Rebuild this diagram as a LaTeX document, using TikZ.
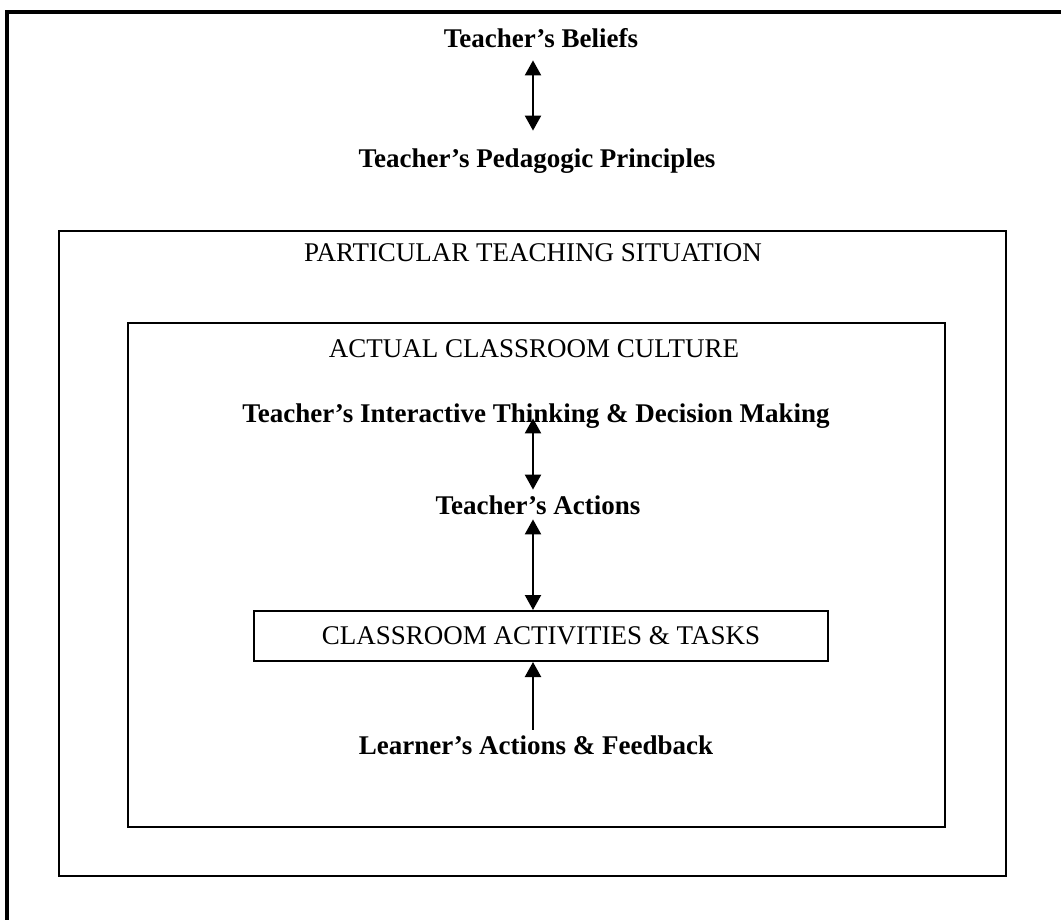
\documentclass[tikz,border=0pt]{standalone}
\usepackage{fontspec}
\setmainfont{Liberation Serif}
\usetikzlibrary{arrows.meta}

\newcommand{\labelsize}{\fontsize{13.5}{16}\selectfont}

\tikzset{
  head/.style={font=\labelsize\bfseries, anchor=base, inner sep=0pt, text height=9pt, text depth=2.5pt},
  title/.style={font=\labelsize, anchor=base, inner sep=0pt},
  twoway/.style={{Triangle[width=8pt,length=7.5pt]}-{Triangle[width=8pt,length=7.5pt]}, line width=1.1pt},
  oneway/.style={-{Triangle[width=8pt,length=7.5pt]}, line width=1.1pt},
  taskbox/.style={draw, font=\labelsize, line width=1pt, minimum width=287pt, minimum height=25pt, inner sep=0pt}
}

\begin{document}
\begin{tikzpicture}[x=0.5pt, y=-0.5pt]
  \useasboundingbox (0,0) rectangle (1061,920);
  \clip (0,0) rectangle (1061,920);

  % nested frames
  \draw[line width=1.8pt] (7,12) rectangle (1090,950);
  \draw[line width=1.4pt] (59,231) rectangle (1006,876);
  \draw[line width=1.3pt] (128,323) rectangle (945,827);

  \coordinate (axis) at (533,0);

  \node[head] (beliefs) at (541,48) {Teacher's Beliefs};
  \node[head] (principles) at (537,168) {Teacher's Pedagogic Principles};

  \node[title] (situation) at (533,262) {PARTICULAR TEACHING SITUATION};
  \node[title] (culture) at (534,357) {ACTUAL CLASSROOM CULTURE};

  \node[head] (thinking) at (536,422) {Teacher's Interactive Thinking \& Decision Making};
  \node[head] (actions) at (538,514) {Teacher's Actions};
  \node[taskbox] (tasks) at (541,636) {CLASSROOM ACTIVITIES \& TASKS};
  \node[head] (learner) at (536,754) {Learner's Actions \& Feedback};

  % connectors
  \draw[twoway, shorten <=3.5pt, shorten >=9.5pt] (beliefs.south -| axis) -- (principles.north -| axis);
  \draw[twoway, shorten <=-4.5pt, shorten >=3pt] (thinking.south -| axis) -- (actions.north -| axis);
  \draw[twoway] (actions.south -| axis) -- (tasks.north -| axis);
  \draw[oneway, shorten <=3pt] (learner.north -| axis) -- (tasks.south -| axis);

\end{tikzpicture}
\end{document}
